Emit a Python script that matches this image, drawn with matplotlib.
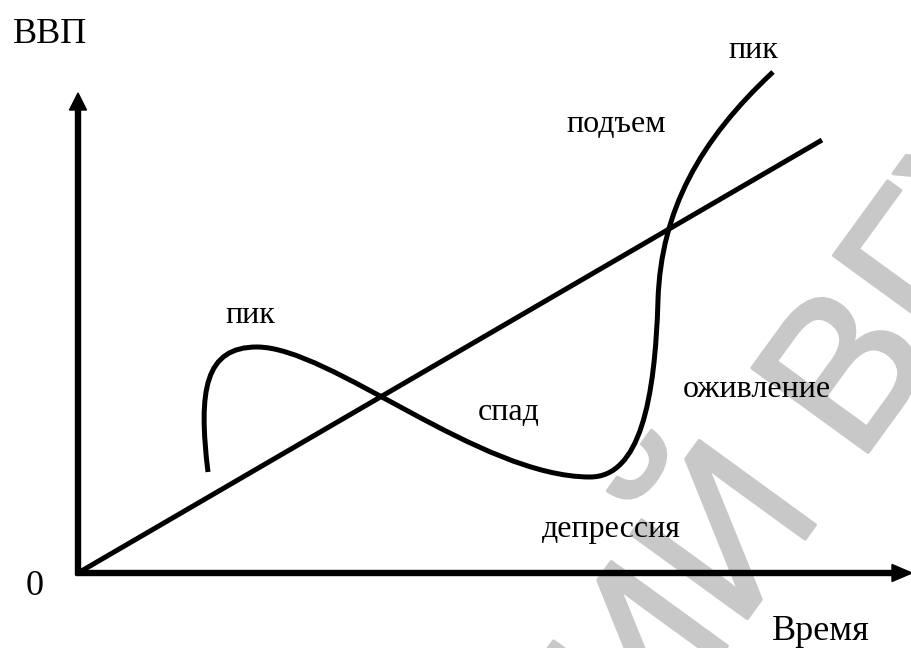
import numpy as np
import matplotlib
matplotlib.use('Agg')
import matplotlib.pyplot as plt
import matplotlib.patheffects as pe
from matplotlib.path import Path
from matplotlib.patches import PathPatch

# схема экономического цикла (координаты в пикселях картинки 912x648)
origin = (78, 573)
y_axis_top = 93
x_axis_end = 912
trend_end = (822, 140)

# узлы и контрольные точки кривой цикла (кубические Безье)
cycle_nodes = [(208, 472), (257, 347), (590, 477), (658, 300), (773, 72)]
cycle_ctrl = [[(198, 390), (205, 347)],
              [(330, 347), (480, 477)],
              [(640, 477), (655, 400)],
              [(661, 210), (700, 140)]]

# подписи: текст, x, y (базовая линия)
labels_big = [("ВВП", 50, 43), ("0", 35, 595), ("Время", 821, 640)]
labels_small = [("пик", 753, 58), ("подъем", 616, 132), ("пик", 250, 323),
                ("спад", 509, 420), ("оживление", 757, 397), ("депрессия", 611, 537)]

fig = plt.figure(figsize=(9.12, 6.48), dpi=100)
ax = fig.add_axes([0, 0, 1, 1])
ax.set_xlim(0, 912)
ax.set_ylim(648, 0)
ax.axis('off')

# водяной знак
wm_angle = 54
wm_pos = (858, 466)   # нижний левый угол "В"
gap = 55
a = np.radians(wm_angle)
wm_style = dict(family='Liberation Sans', fontsize=150, color='#c8c8c8', rotation=wm_angle,
                rotation_mode='anchor', va='baseline', zorder=0,
                path_effects=[pe.withStroke(linewidth=2.5, foreground='#c8c8c8')])
ax.text(wm_pos[0], wm_pos[1], "ВГУ", ha='left', **wm_style)
ax.text(wm_pos[0] - gap * np.cos(a), wm_pos[1] + gap * np.sin(a), "РЕПОЗИТОРИЙ",
        ha='right', **wm_style)

# оси
ax.arrow(origin[0], origin[1] + 2, 0, y_axis_top - origin[1] - 2, width=5, head_width=17,
         head_length=17, length_includes_head=True, fc='k', ec='k', zorder=3)
ax.arrow(origin[0] - 2, origin[1], x_axis_end - origin[0] + 2, 0, width=5, head_width=17,
         head_length=20, length_includes_head=True, fc='k', ec='k', zorder=3)

# линия тренда
ax.plot([origin[0], trend_end[0]], [origin[1], trend_end[1]], color='k', lw=3.6,
        solid_capstyle='butt', zorder=3)

# кривая цикла
verts = [cycle_nodes[0]]
codes = [Path.MOVETO]
for i in range(len(cycle_ctrl)):
    verts += [cycle_ctrl[i][0], cycle_ctrl[i][1], cycle_nodes[i + 1]]
    codes += [Path.CURVE4] * 3
ax.add_patch(PathPatch(Path(verts, codes), fc='none', ec='k', lw=3.6, zorder=3,
                       capstyle='butt'))

for t, x, y in labels_big:
    ax.text(x, y, t, family='Liberation Serif', fontsize=26, ha='center', va='baseline', zorder=4)
for t, x, y in labels_small:
    ax.text(x, y, t, family='Liberation Serif', fontsize=23, ha='center', va='baseline', zorder=4)

fig.savefig('out.png', dpi=100)
